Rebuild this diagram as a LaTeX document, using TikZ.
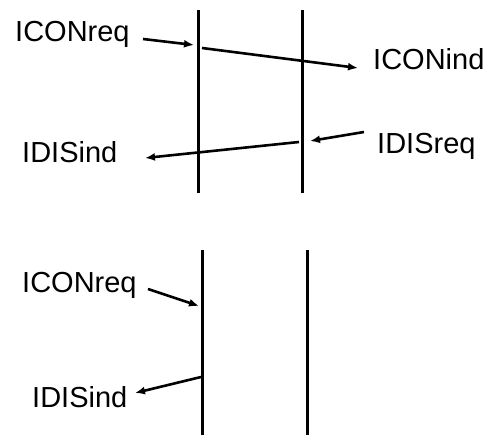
\documentclass[tikz,border=0pt]{standalone}
\usepackage{fontspec}
\setmainfont{Liberation Sans}
\usetikzlibrary{arrows.meta}

\begin{document}
\begin{tikzpicture}[x=1pt,y=-1pt,
				lbl/.style={font=\fontsize{29}{29}\selectfont,inner sep=0pt,anchor=base west},
				life/.style={line width=3pt},
				msg/.style={line width=2.6pt,-{Latex[length=10pt,width=8pt]}}]
				\useasboundingbox (0,0) rectangle (499,435);
				% upper pair of lifelines
				\coordinate (UAtop) at (198,10);  \coordinate (UAbot) at (198,193);
				\coordinate (UBtop) at (302,10);  \coordinate (UBbot) at (302,193);
				\draw[life] (UAtop) -- (UAbot);
				\draw[life] (UBtop) -- (UBbot);
				% lower pair of lifelines
				\coordinate (LAtop) at (202,250); \coordinate (LAbot) at (202,435);
				\coordinate (LBtop) at (307,250); \coordinate (LBbot) at (307,435);
				\draw[life] (LAtop) -- (LAbot);
				\draw[life] (LBtop) -- (LBbot);

				\node[lbl] (CONreqU) at (15,42)  {ICONreq};
				\node[lbl] (CONindU) at (373,70) {ICONind};
				\node[lbl] (DISreqU) at (377,154) {IDISreq};
				\node[lbl] (DISindU) at (22,163) {IDISind};
				\node[lbl] (CONreqL) at (22,293) {ICONreq};
				\node[lbl] (DISindL) at (32,408) {IDISind};

				\coordinate (p1) at (143,39);  \coordinate (p2) at (194,45);
				\coordinate (p3) at (202,48);  \coordinate (p4) at (358,68);
				\coordinate (p5) at (364,132); \coordinate (p6) at (310,141);
				\coordinate (p7) at (299,142); \coordinate (p8) at (145,158);
				\coordinate (q1) at (148,289); \coordinate (q2) at (199,306);
				\coordinate (q3) at (201,377); \coordinate (q4) at (135,393);

				\draw[msg] (p1) -- (p2);
				\draw[msg] (p3) -- (p4);
				\draw[msg] (p5) -- (p6);
				\draw[msg] (p7) -- (p8);
				\draw[msg] (q1) -- (q2);
				\draw[msg] (q3) -- (q4);
			\end{tikzpicture}
\end{document}
